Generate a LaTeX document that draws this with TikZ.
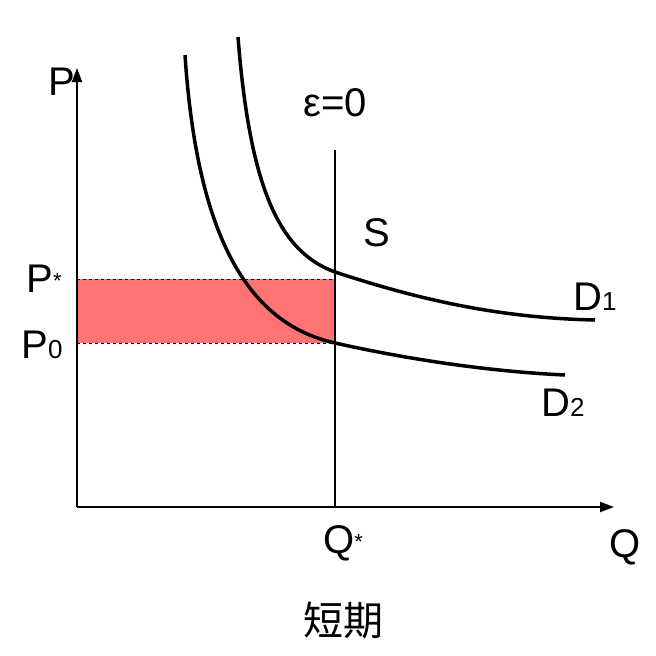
\documentclass[tikz,border=0pt]{standalone}
\usepackage{fontspec}
\setmainfont{Liberation Sans}
\newfontfamily\cjk{Noto Sans CJK SC}
\usetikzlibrary{arrows.meta}
\begin{document}
\begin{tikzpicture}[x=1pt,y=-1pt,
  lab/.style={font=\fontsize{40}{42}\selectfont,inner sep=0pt},
  curve/.style={line width=3.5pt},
  ax/.style={line width=2pt,-{Triangle[length=14pt,width=10pt]}}]
\useasboundingbox (0,0) rectangle (656,656);
\coordinate (O) at (77,507);
\coordinate (Ytop) at (77,68);
\coordinate (Xend) at (614,507);
\coordinate (Ps) at (335,279);
\coordinate (P0) at (335,343);
\coordinate (Stop) at (335,150);
\coordinate (Sbot) at (335,507);
\fill[red!55!white] (77,279) rectangle (335,343);
\draw[dashed,line width=0.6pt] (77,279) -- (Ps);
\draw[dashed,line width=0.6pt] (77,343) -- (P0);
\draw[ax] (O) -- (Ytop);
\draw[ax] (O) -- (Xend);
\draw[line width=2.5pt] (Stop) -- (Sbot);
\draw[curve] (238,37) .. controls (250,190) and (280,252) .. (335,272) .. controls (420,300) and (500,318) .. (595,320);
\draw[curve] (185,55) .. controls (198,250) and (255,325) .. (335,343) .. controls (420,362) and (500,372) .. (565,375);
\node[lab] (lp) at (62,82) {P};
\node[lab] (lps) at (44,279) {P\raisebox{4pt}{\fontsize{22}{22}\selectfont*}};
\node[lab] (lp0) at (42,345) {P\fontsize{26}{26}\selectfont0};
\node[lab] (le) at (335,103) {ε=0};
\node[lab] (ls) at (377,233) {S};
\node[lab] (ld1) at (595,297) {D\fontsize{26}{26}\selectfont1};
\node[lab] (ld2) at (563,403) {D\fontsize{26}{26}\selectfont2};
\node[lab] (lqs) at (343,543) {Q\raisebox{4pt}{\fontsize{22}{22}\selectfont*}};
\node[lab] (lq) at (625,547) {Q};
\node[lab] (lt) at (343,620) {\cjk 短期};
\end{tikzpicture}
\end{document}
